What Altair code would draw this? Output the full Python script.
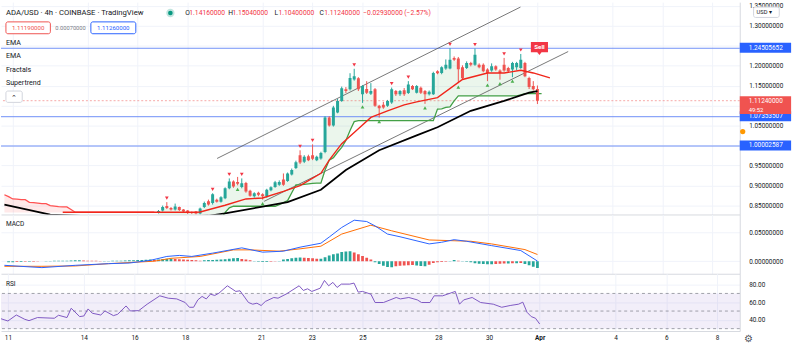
import altair as alt
import numpy as np
import pandas as pd

# ------------------------------------------------------------------ data
BAR0_DAY = 16.8333   # time of bar 0 as day-of-March 2021 (4h bars)
BAR_STEP = 1 / 6     # one 4h bar in days

opens = [0.8309, 0.8371, 0.8483, 0.8433, 0.8396, 0.8458, 0.8396, 0.8371, 0.8334, 0.8346,
         0.8297, 0.8458, 0.8602, 0.8557, 0.8644, 0.8594, 0.8681, 0.8928, 0.9098, 0.9089,
         0.8958, 0.9064, 0.8866, 0.8730, 0.8817, 0.8780, 0.8726, 0.8879, 0.8958, 0.9015,
         0.9151, 0.9114, 0.9275, 0.9436, 0.9758, 0.9592, 0.9733, 0.9758, 0.9634, 0.9676,
         0.9839, 1.0705, 1.0500, 1.0829, 1.1119, 1.1408, 1.1408, 1.1656, 1.1688, 1.1284,
         1.1416, 1.1299, 1.1408, 1.0995, 1.1020, 1.0995, 1.1077, 1.1366, 1.1284, 1.1384,
         1.1317, 1.1490, 1.1324, 1.1448, 1.1366, 1.1284, 1.1284, 1.1861, 1.1819, 1.1928,
         1.1928, 1.2191, 1.2183, 1.1960, 1.1943, 1.2067, 1.2027, 1.2027, 1.2027, 1.1903,
         1.1879, 1.1985, 1.1879, 1.2027, 1.1943, 1.1903, 1.1960, 1.1943, 1.2067, 1.1695,
         1.1490, 1.1416]
highs = [0.8384, 0.8495, 0.8582, 0.8458, 0.8545, 0.8470, 0.8408, 0.8384, 0.8346, 0.8359,
         0.8445, 0.8594, 0.8644, 0.8804, 0.8669, 0.8730, 0.8953, 0.9176, 0.9127, 0.9213,
         0.9176, 0.9089, 0.8891, 0.8829, 0.8842, 0.8804, 0.8916, 0.8978, 0.9114, 0.9127,
         0.9300, 0.9324, 0.9423, 0.9621, 0.9881, 0.9758, 0.9770, 1.0030, 0.9745, 0.9844,
         1.0735, 1.0735, 1.0995, 1.1168, 1.1478, 1.1465, 1.1812, 1.1923, 1.1713, 1.1515,
         1.1614, 1.1564, 1.1441, 1.1020, 1.1094, 1.1143, 1.1453, 1.1391, 1.1391, 1.1441,
         1.1614, 1.1515, 1.1515, 1.1478, 1.1391, 1.1379, 1.1849, 1.1886, 1.1985, 1.2158,
         1.2438, 1.2233, 1.2220, 1.2010, 1.2109, 1.2097, 1.2431, 1.2059, 1.2059, 1.1936,
         1.2059, 1.2010, 1.1911, 1.2196, 1.1973, 1.2097, 1.2097, 1.2295, 1.2097, 1.1725,
         1.1614, 1.1504]
lows = [0.8297, 0.8346, 0.8408, 0.8371, 0.8371, 0.8359, 0.8322, 0.8285, 0.8285, 0.8272,
        0.8272, 0.8433, 0.8495, 0.8520, 0.8570, 0.8570, 0.8656, 0.8904, 0.8941, 0.9002,
        0.8928, 0.8817, 0.8718, 0.8693, 0.8730, 0.8644, 0.8693, 0.8854, 0.8941, 0.8990,
        0.8990, 0.9089, 0.9250, 0.9411, 0.9535, 0.9560, 0.9609, 0.9634, 0.9609, 0.9646,
        0.9807, 1.0475, 1.0475, 1.0809, 1.1094, 1.1317, 1.1379, 1.1626, 1.1366, 1.1069,
        1.1292, 1.1267, 1.0970, 1.0698, 1.0921, 1.0970, 1.1044, 1.1243, 1.1243, 1.1243,
        1.1292, 1.1391, 1.1305, 1.1292, 1.1044, 1.1255, 1.1267, 1.1787, 1.1787, 1.1898,
        1.1911, 1.2121, 1.1564, 1.1663, 1.1918, 1.1985, 1.1998, 1.1936, 1.1837, 1.1614,
        1.1849, 1.1874, 1.1651, 1.1849, 1.1837, 1.1713, 1.1886, 1.1923, 1.1713, 1.1416,
        1.1379, 1.1040]
closes = [0.8359, 0.8458, 0.8433, 0.8396, 0.8470, 0.8384, 0.8346, 0.8309, 0.8309, 0.8297,
          0.8421, 0.8557, 0.8520, 0.8780, 0.8594, 0.8706, 0.8928, 0.9098, 0.8973, 0.9040,
          0.9052, 0.8849, 0.8743, 0.8804, 0.8767, 0.8726, 0.8891, 0.8953, 0.9077, 0.9089,
          0.9015, 0.9300, 0.9386, 0.9584, 0.9572, 0.9716, 0.9634, 0.9671, 0.9716, 0.9814,
          1.0705, 1.0500, 1.0953, 1.1119, 1.1433, 1.1366, 1.1695, 1.1738, 1.1408, 1.1490,
          1.1324, 1.1366, 1.0995, 1.0937, 1.0953, 1.1119, 1.1408, 1.1284, 1.1366, 1.1284,
          1.1532, 1.1408, 1.1490, 1.1324, 1.1284, 1.1349, 1.1819, 1.1812, 1.1960, 1.2027,
          1.2151, 1.2151, 1.1911, 1.1688, 1.2067, 1.2027, 1.2275, 1.1960, 1.1861, 1.1819,
          1.1985, 1.1903, 1.1819, 1.1879, 1.1861, 1.2067, 1.2067, 1.2151, 1.1738, 1.1465,
          1.1408, 1.1124]

fractal_down_bars = [2, 13, 17, 20, 34, 37, 47, 56, 60, 70, 76, 83, 87]
fractal_up_bars = [19, 25, 49, 53, 64, 72, 79, 82, 85]

# Supertrend (up-trend, green) for bars 0..92
supertrend_up = [0.800, 0.800, 0.800, 0.800, 0.800, 0.800, 0.800, 0.800, 0.800, 0.800,
                 0.806, 0.806, 0.806, 0.815, 0.815, 0.815, 0.8322, 0.8438, 0.8478, 0.8478,
                 0.8478, 0.8478, 0.8478, 0.8478, 0.8478, 0.8478, 0.8478, 0.8478, 0.8478, 0.8520,
                 0.8570, 0.8619, 0.8817, 0.9015, 0.9015, 0.9027, 0.9040, 0.9052, 0.9057, 0.9057,
                 0.9386, 0.9634, 0.9696, 0.9832, 0.9956, 1.0129, 1.0376, 1.0599, 1.0624, 1.0624,
                 1.0624, 1.0624, 1.0624, 1.0624, 1.0624, 1.0624, 1.0624, 1.0624, 1.0624, 1.0624,
                 1.0624, 1.0624, 1.0624, 1.0624, 1.0624, 1.0624, 1.0624, 1.0913, 1.0921, 1.0958,
                 1.0970, 1.1119, 1.1243, 1.1243, 1.1243, 1.1243, 1.1243, 1.1243, 1.1243, 1.1243,
                 1.1243, 1.1243, 1.1243, 1.1243, 1.1243, 1.1243, 1.1243, 1.1267, 1.1299, 1.1299,
                 1.1299, 1.1299, 1.1299]
# Supertrend (down-trend, red) for bars -37..-1, before trading started
supertrend_dn = [0.8767, 0.8718, 0.8661, 0.8656, 0.8644, 0.8644, 0.8577, 0.8570, 0.8557, 0.8545,
                 0.8545, 0.8495, 0.8483, 0.8470, 0.8463, 0.8463, 0.8396, 0.8329, 0.8329, 0.8329,
                 0.8329, 0.8329, 0.8329, 0.8329, 0.8329, 0.8329, 0.8329, 0.8329, 0.8329, 0.8329,
                 0.8329, 0.8329, 0.8329, 0.8329, 0.8329, 0.8329, 0.8329]
pre_listing_price = 0.8322

ema_fast_bars = [-23, 9, 10, 16, 21, 25, 30, 34, 39, 41, 44, 48, 51, 55, 59, 62, 67, 73, 79, 83, 87, 90, 94]
ema_fast = [0.8327, 0.8327, 0.8334, 0.8503, 0.8661, 0.8686, 0.8849, 0.8997, 0.9304, 0.9634, 1.0047,
            1.0418, 1.0705, 1.0871, 1.1020, 1.1094, 1.1201, 1.1656, 1.1819, 1.1819, 1.1886, 1.1819, 1.1695]
ema_slow_bars = [-37, -26, -10, 12, 16, 25, 31, 39, 45, 53, 62, 67, 75, 83, 89, 91]
ema_slow = [0.8520, 0.8268, 0.8200, 0.8240, 0.8297, 0.8470, 0.8582, 0.8891, 0.9386, 0.9881, 1.0253,
            1.0458, 1.0871, 1.1119, 1.1324, 1.1366]

# trend channel (drawn lines): start day, start price, end day, end price
trend_day1 = [19.179, 21.062]
trend_price1 = [0.9676, 0.8602]
trend_day2 = [31.320, 33.231]
trend_price2 = [1.3470, 1.2356]

levels = [1.24505652, 1.07353507, 1.00002587]
level_labels = ["1.24505652", "1.07353507", "1.00002587"]
last_price = 1.1124
last_price_label = "1.11240000"
countdown = "49:52"
sell_day = 32.08
sell_price = 1.2443

macd_bars = [-37, -28, -20, -12, -7, -2, 2, 5, 8, 13, 20, 25, 30, 34, 39, 41, 44, 47, 50, 52, 55, 58,
             65, 68, 71, 74, 80, 87, 91]
macd_vals = [-0.0072, -0.0112, -0.0072, -0.0043, -0.0032, 0.0014, 0.0083, 0.0101, 0.0083, 0.0141,
             0.0233, 0.0158, 0.0175, 0.0245, 0.0314, 0.0422, 0.0589, 0.0716, 0.0693, 0.0617, 0.0474,
             0.0427, 0.0302, 0.0331, 0.0376, 0.0348, 0.0272, 0.0186, 0.0003]
signal_bars = [-37, -28, -20, -12, -1, 3, 10, 18, 22, 29, 34, 39, 44, 51, 56, 65, 75, 80, 88, 91]
signal_vals = [-0.0089, -0.0089, -0.0083, -0.0043, 0.0000, 0.0050, 0.0083, 0.0198, 0.0198, 0.0175,
               0.0216, 0.0262, 0.0474, 0.0629, 0.0531, 0.0371, 0.0348, 0.0302, 0.0203, 0.0117]
hist_first_bar = -36
hist_milli = [-2, -2, -1.5, -1.5, -1, -1, -0.8,
              -0.5, -0.3, 0.2, 0.4,
              0.6, 0.8, 1, 1, 1.2,
              1.5, 1.8,
              1.2, 1, 0.8, 0.6, 0.5, 0.5, 0.5, 0.6, 0.8, 1, 1.2,
              1.5, 1.8, 2, 2.2, 2.5, 3,
              2, 3, 4, 4.5, 4.5,
              4, 3.5, 3, 2.5, 2, 1.5, 1,
              1.5, 2,
              2, 2.5, 3, 3.5, 4.5, 5, 5.5,
              4, 3, 1.5,
              -0.5, -1, -1.5, -1.5, -1, -0.5, 0.5,
              3, 4, 5, 6, 6.5, 6, 5.5, 5, 4.5, 4.5,
              7, 10, 12, 13.5, 16, 17, 17.5, 15,
              12, 9, 6, 3,
              -2, -5, -8, -10, -10.5, -9, -8, -7.5,
              -7, -6.5, -7.5, -8.5, -9, -6, -3, -2, -1.5, -1,
              0.5, 2, 1, -0.5, -1,
              -2, -3.5, -4.5, -5, -5.5, -5.5, -5, -4.5, -4,
              -4, -3.5, -3.5, -3,
              -5, -7, -9.5, -12]

rsi_bars = [-37, -35, -33, -31, -30, -28, -24, -23, -21, -20, -18, -17, -16, -15, -13, -12, -10, -9, -7, -6,
            -4, -2, 1, 3, 5, 7, 8, 9, 10, 11, 12, 13, 14, 15, 17, 19, 20, 22, 23, 24,
            25, 26, 28, 29, 31, 34, 35, 36, 37, 38, 39, 40, 41, 42, 43, 44, 46, 47, 48, 49,
            51, 52, 54, 57, 58, 60, 62, 63, 65, 66, 68, 71, 72, 73, 75, 77, 80, 82, 84, 86,
            87, 88, 89, 90, 91]
rsi_vals = [41.8, 38.7, 45.5, 40.6, 39.1, 42.6, 41.8, 45.2, 42.6, 53.2, 43.7, 44.4, 52.4, 47.5, 45.5, 50.1, 44.8, 46.3, 55.8, 50.1,
            50.5, 57.8, 67.3, 64.6, 63.8, 59.7, 54.3, 54.3, 62.7, 66.6, 63.8, 69.2, 67.7, 70.3, 78.7, 72.3, 73.0, 59.7, 57.8, 58.9,
            56.3, 60.9, 65.4, 64.6, 69.5, 78.7, 73.4, 75.3, 72.3, 74.1, 76.0, 84.8, 78.7, 82.6, 76.8, 80.6, 80.6, 81.8, 71.5, 72.3,
            69.2, 59.7, 59.7, 65.4, 63.8, 65.4, 62.7, 59.7, 59.7, 67.3, 67.3, 72.3, 57.8, 62.7, 65.4, 59.7, 57.8, 54.3, 56.3, 57.8,
            60.1, 48.6, 43.7, 41.8, 35.3]
rsi_upper, rsi_mid, rsi_lower = 70, 50, 30

time_ticks = [11, 14, 16, 18, 21, 23, 25, 28, 30, 32, 35, 37, 39]
price_ticks = [0.85, 0.90, 0.95, 1.00, 1.05, 1.10, 1.15, 1.20, 1.25, 1.30, 1.35]
macd_ticks = [0.0, 0.05]
rsi_ticks = [40, 60, 80]

title_text = "ADA/USD · 4h · COINBASE · TradingView"
ohlc_letters = ["O", "H", "L", "C"]
ohlc_values = ["1.14160000", "1.15040000", "1.10400000", "1.11240000"]
change_text = "−0.02930000 (−2.57%)"
bid_text, spread_text, ask_text = "1.11190000", "0.00070000", "1.11260000"
legend_items = ["EMA", "EMA", "Fractals", "Supertrend"]

# ------------------------------------------------------------------ style
FONT = "Roboto"
TXT = "#131722"
SUB = "#787b86"
GRID = "#f0f3fa"
BORDER = "#d6d9e0"
UP = "#26a69a"
DN = "#ef5350"
BLUE = "#2962ff"
LEVEL = "#6f8ff7"
W = 748
H_MAIN, H_MACD, H_RSI = 215, 60, 58

XS = alt.Scale(domain=[10.727, 39.90], nice=False, zero=False)
PS = alt.Scale(domain=[0.8272, 1.3594], nice=False, zero=False)
MS = alt.Scale(domain=[-0.0219, 0.0816], nice=False, zero=False)
RS = alt.Scale(domain=[27.3, 92.4], nice=False, zero=False)


def to_day(bars):
    return [BAR0_DAY + b * BAR_STEP for b in bars]


def y_axis(values, fmt, expr=None, grid=True):
    kw = dict(orient="right", values=values, format=fmt, title=None, grid=grid, gridColor=GRID,
              ticks=False, tickSize=0, domain=True, domainColor=BORDER, labelPadding=9,
              labelFontSize=6.5, labelColor=TXT, labelOverlap=False, labelFlush=False,
              labelBaseline="middle")
    if expr:
        kw["labelExpr"] = expr
    return alt.Axis(**kw)


AX_X_HIDDEN = alt.Axis(title=None, values=time_ticks, labels=False, ticks=False, tickSize=0,
                       domain=True, domainColor=BORDER, grid=True, gridColor=GRID)
AX_X_BOTTOM = alt.Axis(title=None, values=time_ticks, labels=True, ticks=False, tickSize=0,
                       domain=True, domainColor=BORDER, grid=True, gridColor=GRID,
                       labelPadding=4, labelFontSize=6.5, labelColor=TXT, labelOverlap=False,
                       labelFlush=False,
                       labelExpr="datum.value == 32 ? 'Apr' : format(datum.value > 31 ? datum.value - 31 : datum.value, 'd')",
                       labelFontWeight={"condition": {"test": "datum.value == 32", "value": "bold"}, "value": "normal"})
# price labels hidden behind the scale markers are left blank
AXP = y_axis(price_ticks, ".8f",
             "(abs(datum.value - 1.25) < 0.001 || abs(datum.value - 1.1) < 0.001 || abs(datum.value - 1.0) < 0.001) ? '' : datum.label")
AXM = y_axis(macd_ticks, ".8f")
AXR = y_axis(rsi_ticks, ".2f")


def X(axis, field="day"):
    return alt.X(f"{field}:Q", scale=XS, axis=axis)


def Y(field, scale, axis):
    return alt.Y(f"{field}:Q", scale=scale, axis=axis)


def one():
    return pd.DataFrame({"a": [0]})


def txt(s, x, y, size=7.0, color=TXT, align="left", weight="normal"):
    return alt.Chart(pd.DataFrame({"t": [s]})).mark_text(
        align=align, baseline="middle", fontSize=size, color=color, fontWeight=weight, font=FONT
    ).encode(x=alt.value(x), y=alt.value(y), text="t:N")


def box(x1, x2, y1, y2, stroke, fill="white"):
    return alt.Chart(one()).mark_rect(stroke=stroke, fill=fill, strokeWidth=1, cornerRadius=2).encode(
        x=alt.value(x1), x2=alt.value(x2), y=alt.value(y1), y2=alt.value(y2))


# ------------------------------------------------------------------ frames
cdf = pd.DataFrame({"bar": np.arange(len(opens)), "open": opens, "high": highs,
                    "low": lows, "close": closes})
cdf["day"] = to_day(cdf["bar"])
cdf["dir"] = np.where(cdf["close"] >= cdf["open"], "up", "down")
cdf["mid"] = (cdf["open"] + cdf["close"]) / 2

st_df = pd.DataFrame({"bar": np.arange(len(supertrend_up)), "st": supertrend_up})
st_df["day"] = to_day(st_df["bar"])
fill_df = st_df.merge(cdf[["bar", "mid"]], on="bar")

st_dn_df = pd.DataFrame({"bar": np.arange(-len(supertrend_dn), 0), "st": supertrend_dn})
st_dn_df["day"] = to_day(st_dn_df["bar"])
st_dn_df["base"] = pre_listing_price

ef_df = pd.DataFrame({"day": to_day(ema_fast_bars), "v": ema_fast})
es_df = pd.DataFrame({"day": to_day(ema_slow_bars), "v": ema_slow})
trend_df = pd.DataFrame({"day": trend_day1, "price": trend_price1, "day2": trend_day2, "price2": trend_price2})
level_df = pd.DataFrame({"price": levels, "label": level_labels})
last_df = pd.DataFrame({"price": [last_price], "label": [last_price_label], "cd": [countdown]})
sell_df = pd.DataFrame({"day": [sell_day], "price": [sell_price], "t": ["Sell"]})

m_df = pd.DataFrame({"day": to_day(macd_bars), "v": macd_vals})
s_df = pd.DataFrame({"day": to_day(signal_bars), "v": signal_vals})
hist = [h / 1000 for h in hist_milli]
hc = []
for k, h in enumerate(hist):
    prev = hist[k - 1] if k > 0 else h
    if h >= 0:
        hc.append("g1" if h >= prev else "g2")
    else:
        hc.append("r1" if h <= prev else "r2")
h_df = pd.DataFrame({"bar": np.arange(hist_first_bar, hist_first_bar + len(hist)), "h": hist, "hc": hc})
h_df["day"] = to_day(h_df["bar"])
h_df["zero"] = 0.0

r_df = pd.DataFrame({"day": to_day(rsi_bars), "v": rsi_vals})

CCOL = alt.Color("dir:N", scale=alt.Scale(domain=["up", "down"], range=[UP, DN]), legend=None)
XM = AX_X_HIDDEN

# ------------------------------------------------------------------ main pane
main_layers = [
    alt.Chart(st_dn_df).mark_area(color="#ff5252", opacity=0.13, clip=True).encode(
        x=X(XM), y=Y("st", PS, AXP), y2="base:Q"),
    alt.Chart(fill_df).mark_area(color="#4caf50", opacity=0.11, clip=True).encode(
        x=X(XM), y=Y("st", PS, AXP), y2="mid:Q"),
    alt.Chart(level_df).mark_rule(color=LEVEL, strokeWidth=1, opacity=1, yOffset=0.5).encode(
        x=alt.value(0), x2=alt.value(W), y=Y("price", PS, AXP)),
    alt.Chart(last_df).mark_rule(color=DN, strokeWidth=1, strokeDash=[2, 2], opacity=0.5).encode(
        y=Y("price", PS, AXP)),
    alt.Chart(trend_df).mark_rule(color="#555555", strokeWidth=0.8, clip=True).encode(
        x=X(XM), x2="day2:Q", y=Y("price", PS, AXP), y2="price2:Q"),
    alt.Chart(st_dn_df).mark_line(color="#ff5252", strokeWidth=1.3, clip=True).encode(
        x=X(XM), y=Y("st", PS, AXP)),
    alt.Chart(st_df).mark_line(color="#43a047", strokeWidth=1.3, clip=True).encode(
        x=X(XM), y=Y("st", PS, AXP)),
    alt.Chart(cdf).mark_rule(strokeWidth=1, clip=True).encode(
        x=X(XM), y=Y("low", PS, AXP), y2="high:Q", color=CCOL),
    alt.Chart(cdf).mark_bar(size=3, clip=True).encode(
        x=X(XM), y=Y("open", PS, AXP), y2="close:Q", color=CCOL),
    alt.Chart(es_df).mark_line(color="#000000", strokeWidth=1.8, clip=True).encode(
        x=X(XM), y=Y("v", PS, AXP)),
    alt.Chart(ef_df).mark_line(color="#f0261b", strokeWidth=1.4, clip=True).encode(
        x=X(XM), y=Y("v", PS, AXP)),
    alt.Chart(cdf[cdf["bar"].isin(fractal_down_bars)]).mark_point(
        shape="triangle-down", filled=True, size=14, color="#f23645", opacity=1, yOffset=-4).encode(
        x=X(XM), y=Y("high", PS, AXP)),
    alt.Chart(cdf[cdf["bar"].isin(fractal_up_bars)]).mark_point(
        shape="triangle-up", filled=True, size=14, color="#4caf50", opacity=1, yOffset=4).encode(
        x=X(XM), y=Y("low", PS, AXP)),
    alt.Chart(sell_df).mark_point(
        shape="M-1,-0.7L1,-0.7L1,0.5L0.25,0.5L0,0.8L-0.25,0.5L-1,0.5Z",
        filled=True, size=300, color="#f23645", opacity=1, strokeWidth=0).encode(
        x=X(XM), y=Y("price", PS, AXP)),
    alt.Chart(sell_df).mark_text(color="white", fontSize=6.3, fontWeight="bold", font=FONT,
                                 baseline="middle", dy=-1).encode(
        x=X(XM), y=Y("price", PS, AXP), text="t:N"),
    # price-scale labels
    alt.Chart(level_df).mark_rule(color=BLUE, strokeWidth=10).encode(
        x=alt.value(W), x2=alt.value(800), y=Y("price", PS, AXP)),
    alt.Chart(level_df).mark_text(align="left", baseline="middle", color="white", fontSize=6.5, font=FONT).encode(
        x=alt.value(757), y=Y("price", PS, AXP), text="label:N"),
    alt.Chart(last_df).mark_rule(color="#f05350", strokeWidth=18, yOffset=4.5).encode(
        x=alt.value(W), x2=alt.value(800), y=Y("price", PS, AXP)),
    alt.Chart(last_df).mark_text(align="left", baseline="middle", color="white", fontSize=6.5, font=FONT).encode(
        x=alt.value(757), y=Y("price", PS, AXP), text="label:N"),
    alt.Chart(last_df).mark_text(align="left", baseline="middle", color="white", fontSize=6.0, font=FONT, dy=9).encode(
        x=alt.value(757), y=Y("price", PS, AXP), text="cd:N"),
    alt.Chart(one()).mark_point(shape="circle", filled=True, size=28, color="#ff9800", opacity=1).encode(
        x=alt.value(751), y=alt.value(131)),
    box(762, 788, 5, 15.5, "#d1d4dc"),
    txt("USD ▾", 765, 10.5, 5.8),
    # header
    txt(title_text, 5, 11, 7.8),
    alt.Chart(one()).mark_point(shape="circle", filled=True, size=70, color="#089981", opacity=0.25).encode(
        x=alt.value(171.5), y=alt.value(11)),
    alt.Chart(one()).mark_point(shape="circle", filled=True, size=22, color="#089981", opacity=1).encode(
        x=alt.value(171.5), y=alt.value(11)),
]
for letter, val, lx, vx in zip(ohlc_letters, ohlc_values, [186.5, 230, 277, 322.5], [190.7, 234.3, 281, 327.3]):
    main_layers.append(txt(letter, lx, 11, 6.8, TXT))
    main_layers.append(txt(val, vx, 11, 6.8, "#f23645"))
main_layers += [
    txt(change_text, 366.7, 11, 6.8, "#f23645"),
    box(5, 50, 20, 32, DN),
    txt(bid_text, 27.5, 26, 6.2, DN, align="center"),
    txt(spread_text, 55, 26, 5.8, SUB),
    box(91, 136.5, 20, 32, BLUE),
    txt(ask_text, 113.7, 26, 6.2, BLUE, align="center"),
]
for item, yy in zip(legend_items, [41.7, 55, 68.3, 81.7]):
    main_layers.append(txt(item, 5, yy, 7.2))
main_layers += [box(5, 21.5, 90, 101.5, "#d1d4dc"), txt("⌃", 13.3, 97, 7, TXT, align="center")]

main = alt.layer(*main_layers).properties(width=W, height=H_MAIN)

# ------------------------------------------------------------------ MACD pane
HCOL = alt.Color("hc:N", scale=alt.Scale(domain=["g1", "g2", "r1", "r2"],
                                         range=["#26a69a", "#b2dfdb", "#ff5252", "#ffcdd2"]), legend=None)
macd = alt.layer(
    alt.Chart(h_df).mark_bar(size=2.8, clip=True).encode(
        x=X(XM), y=Y("h", MS, AXM), y2="zero:Q", color=HCOL),
    alt.Chart(s_df).mark_line(color="#ff6d00", strokeWidth=1, clip=True).encode(x=X(XM), y=Y("v", MS, AXM)),
    alt.Chart(m_df).mark_line(color="#2962ff", strokeWidth=1, clip=True).encode(x=X(XM), y=Y("v", MS, AXM)),
    txt("MACD", 5, 9.5, 6.6),
).properties(width=W, height=H_MACD)

# ------------------------------------------------------------------ RSI pane
rsi = alt.layer(
    alt.Chart(pd.DataFrame({"hi": [rsi_upper], "lo": [rsi_lower]})).mark_rect(color="#7e57c2", opacity=0.1).encode(
        x=alt.value(0), x2=alt.value(W), y=Y("hi", RS, AXR), y2="lo:Q"),
    alt.Chart(pd.DataFrame({"lvl": [rsi_upper, rsi_mid, rsi_lower]})).mark_rule(
        color="#787b86", strokeDash=[3, 3], strokeWidth=1, opacity=0.7).encode(y=Y("lvl", RS, AXR)),
    alt.Chart(r_df).mark_line(color="#7e57c2", strokeWidth=1, clip=True).encode(
        x=X(AX_X_BOTTOM), y=Y("v", RS, AXR)),
    txt("RSI", 5, 10.5, 6.6),
    txt("⚙", 757, 66, 10, "#50535e", align="center"),
).properties(width=W, height=H_RSI)

chart = alt.vconcat(main, macd, rsi, spacing=0, bounds="flush").properties(
    padding=0, background="white"
).configure_view(stroke=None).configure_axis(labelFont=FONT)

chart.save("out.html", embed_options={"renderer": "svg", "actions": False})
